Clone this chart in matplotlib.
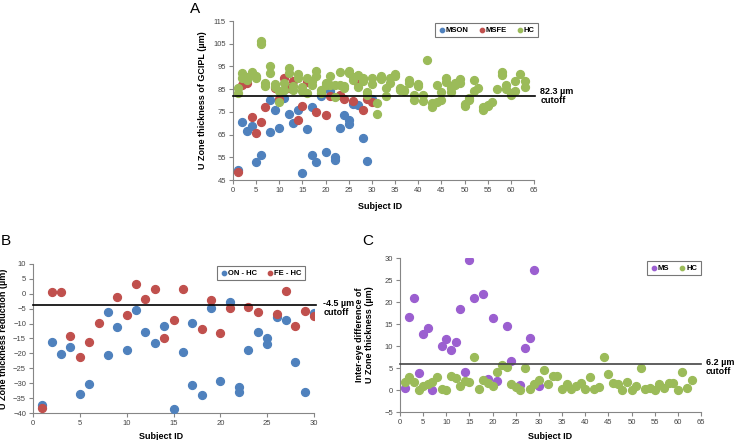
import numpy as np
import matplotlib.pyplot as plt

plt.rcParams['font.family'] = ['Liberation Sans', 'DejaVu Sans']

# ---- Panel A: U zone GCIPL thickness per subject ----
mson_x = [1, 2, 3, 4, 5, 6, 8, 8, 9, 10, 11, 12, 13, 14, 15, 16, 17, 17, 18, 19,
          20, 21, 22, 22, 23, 24, 25, 25, 26, 27, 28, 29, 30]
mson_y = [49.5, 70.5, 66.5, 68.7, 52.9, 55.8, 80.4, 66.1, 75.6, 68.0, 81.0, 74.1, 69.9, 75.7,
          48.0, 67.3, 77.0, 56.0, 52.8, 82.2, 57.2, 84.4, 55.0, 53.6, 67.7, 73.7, 71.6, 69.6,
          78.4, 78.0, 63.6, 53.3, 80.7]
msfe_x = [1, 2, 3, 4, 5, 6, 7, 9, 10, 11, 12, 13, 14, 15, 16, 18, 20, 21, 23, 24,
          26, 27, 28, 29, 30]
msfe_y = [48.5, 87.0, 87.6, 72.8, 65.5, 70.5, 77.0, 85.7, 80.7, 89.8, 85.3, 88.5, 71.5, 77.6,
          88.2, 74.9, 73.6, 82.2, 82.3, 80.6, 79.7, 87.8, 75.6, 80.7, 79.4]
hc_x = [1, 1, 2, 2, 3, 3, 4, 4, 5, 5, 6, 6, 7, 7, 8, 8, 9, 9, 10, 10, 11, 11, 12, 12,
        13, 13, 14, 14, 15, 15, 16, 16, 17, 17, 18, 18, 19, 19, 20, 20, 21, 21, 22, 22,
        23, 23, 24, 24, 25, 25, 26, 26, 27, 27, 28, 28, 29, 29, 30, 30, 31, 31, 32, 32,
        33, 33, 34, 34, 35, 35, 36, 36, 37, 37, 38, 38, 39, 39, 40, 40, 41, 41, 42,
        43, 43, 44, 44, 45, 45, 46, 46, 47, 47, 48, 48, 49, 49, 50, 50, 51, 51, 52, 52,
        53, 54, 54, 55, 55, 56, 57, 58, 58, 59, 59, 60, 60, 61, 61, 62, 63, 63]
hc_y = [85.5, 83.3, 92.0, 90.0, 90.5, 89.0, 92.7, 91.5, 91.0, 90.0, 106.0, 105.0, 87.6, 86.2,
        95.0, 92.0, 87.2, 86.0, 79.2, 84.0, 87.6, 84.5, 94.2, 92.0, 84.6, 86.5, 91.5, 89.8,
        86.1, 84.2, 90.0, 83.5, 88.5, 87.0, 93.0, 91.0, 84.6, 83.2, 86.8, 87.5, 90.9, 87.0,
        87.0, 81.5, 92.4, 87.0, 86.5, 85.5, 93.0, 92.0, 90.5, 89.0, 91.2, 86.1, 89.8, 88.5,
        83.9, 82.4, 89.8, 87.1, 78.7, 74.0, 90.7, 89.4, 85.3, 81.9, 90.1, 87.5, 91.6, 91.0,
        85.7, 84.5, 84.5, 84.0, 88.9, 87.8, 82.3, 80.4, 87.2, 86.5, 82.3, 79.8, 97.7,
        77.2, 78.7, 86.8, 79.4, 83.9, 80.3, 89.8, 88.3, 85.4, 83.9, 87.6, 87.0, 89.5, 87.9,
        77.6, 78.5, 80.2, 81.0, 89.0, 84.3, 85.4, 75.8, 77.0, 77.6, 78.0, 79.5, 84.9,
        92.7, 91.3, 86.8, 84.9, 82.4, 83.5, 88.6, 84.3, 91.7, 88.6, 86.1]
cutoff_a = 82.0

# ---- Panel B: thickness reduction vs HC ----
on_x = [1, 2, 3, 4, 5, 6, 8, 8, 9, 10, 11, 12, 13, 14, 15, 16, 17, 17, 18, 19, 20, 21,
        22, 22, 23, 24, 25, 25, 26, 27, 28, 29, 30]
on_y = [-37.4, -16.2, -20.2, -17.9, -33.6, -30.4, -20.6, -6.2, -11.0, -18.7, -5.6, -12.8,
        -16.6, -10.8, -38.8, -19.4, -30.6, -9.7, -34.0, -4.6, -29.4, -2.6, -31.4, -33.0,
        -19.0, -12.9, -14.8, -17.0, -7.7, -8.8, -23.0, -33.0, -6.6]
fe_x = [1, 2, 3, 4, 5, 6, 7, 9, 10, 11, 12, 13, 14, 15, 16, 18, 19, 20, 21, 23, 24, 26,
        27, 28, 29, 30]
fe_y = [-38.2, 0.5, 0.7, -14.0, -21.1, -16.2, -9.7, -1.1, -7.1, 3.3, -1.6, 1.7, -15.0, -8.9,
        1.6, -11.9, -2.0, -13.0, -4.6, -4.3, -6.0, -6.8, 0.9, -10.9, -5.8, -7.6]
cutoff_b = -3.8

# ---- Panel C: inter-eye difference ----
ms_x = [1, 2, 3, 4, 5, 6, 7, 9, 10, 11, 12, 13, 14, 15, 16, 18, 19, 20, 21, 23, 24, 26,
        27, 28, 29, 30]
ms_y = [0.5, 16.7, 20.8, 3.9, 12.7, 14.2, 0.0, 10.1, 11.7, 9.1, 10.9, 18.3, 4.2, 29.6, 21.0,
        21.9, 2.6, 16.3, 2.0, 14.6, 6.7, 1.1, 9.5, 11.9, 27.2, 0.8]
hc2_x = list(range(1, 64))
hc2_y = [1.9, 2.9, 1.8, 0.1, 1.0, 1.4, 1.8, 2.9, 0.3, 0.1, 3.1, 2.7, 0.8, 2.1, 1.9, 7.6,
         0.3, 2.3, 1.6, 0.8, 4.0, 5.6, 5.2, 1.4, 0.6, 0.1, 5.1, 0.2, 1.4, 2.3, 4.5, 1.4,
         3.1, 3.1, 0.3, 1.4, 0.3, 1.0, 1.6, 0.2, 2.9, 0.2, 0.7, 7.6, 3.6, 1.6, 1.4, 0.1,
         1.9, 0.1, 0.8, 5.0, 0.3, 0.4, 0.0, 1.4, 0.4, 1.6, 1.7, 0.1, 4.2, 0.4, 2.3]
cutoff_c = 6.0

blue = '#4F81BD'
red = '#C0504D'
green = '#9BBB59'
purple = '#9B5FD0'
grey = '#868686'

W, H = 734, 440
fig = plt.figure(figsize=(W / 100, H / 100), dpi=100)


def px_axes(l, t, r, b):
    return fig.add_axes([l / W, 1 - b / H, (r - l) / W, (b - t) / H])


def style(ax, xlim, ylim, xstep, ystep):
    ax.set_xlim(*xlim)
    ax.set_ylim(*ylim)
    ax.set_xticks(np.arange(xlim[0], xlim[1] + 0.1, xstep))
    ax.set_yticks(np.arange(ylim[0], ylim[1] + 0.1, ystep))
    for s in ['top', 'right']:
        ax.spines[s].set_visible(False)
    for s in ['left', 'bottom']:
        ax.spines[s].set_color(grey)
        ax.spines[s].set_linewidth(0.8)
    ax.tick_params(direction='out', length=3, width=0.8, color=grey,
                   labelsize=5.5, labelcolor='#444444', pad=2)
    ax.set_xlabel('Subject ID', fontsize=6.5, fontweight='bold')


def legend(ax, x, y):
    lg = ax.legend(loc='upper left', bbox_to_anchor=(x / W, 1 - y / H),
                   bbox_transform=fig.transFigure, ncol=3,
                   prop={'weight': 'bold', 'size': 5.5}, frameon=True, fancybox=False,
                   edgecolor='#555555', handletextpad=0.0, columnspacing=1.2,
                   borderpad=0.45, handlelength=1.0, markerscale=0.55)
    lg.get_frame().set_linewidth(0.8)


ms = 32

# Panel A
axA = px_axes(233, 21, 534, 180)
axA.scatter(mson_x, mson_y, s=ms, color=blue, label='MSON', zorder=3)
axA.scatter(msfe_x, msfe_y, s=ms, color=red, label='MSFE', zorder=3)
axA.scatter(hc_x, hc_y, s=ms, color=green, label='HC', zorder=3)
axA.plot([0, 65.3], [cutoff_a, cutoff_a], color='black', lw=1.2, clip_on=False, zorder=4)
style(axA, (0, 65), (45, 115), 5, 10)
axA.set_ylabel('U Zone thickness of GCIPL (µm)', fontsize=6.5, fontweight='bold')
axA.yaxis.set_label_coords(-0.086, 0.5)
axA.xaxis.set_label_coords(0.49, -0.14)
axA.text(66.4, cutoff_a, '82.3 µm\ncutoff', fontsize=6.5, fontweight='bold',
         va='center', ha='left', linespacing=1.1)
legend(axA, 431, 19)
fig.text(190 / W, 1 - 9 / H, 'A', fontsize=11, va='center')

# Panel B
axB = px_axes(33, 264, 314, 413)
axB.scatter(on_x, on_y, s=ms, color=blue, label='ON - HC', zorder=3)
axB.scatter(fe_x, fe_y, s=ms, color=red, label='FE - HC', zorder=3)
axB.plot([0, 30.2], [cutoff_b, cutoff_b], color='black', lw=1.2, clip_on=False, zorder=4)
style(axB, (0, 30), (-40, 10), 5, 5)
axB.set_ylabel('U Zone thickness reduction (µm)', fontsize=6.5, fontweight='bold')
axB.yaxis.set_label_coords(-0.09, 0.5)
axB.xaxis.set_label_coords(0.455, -0.125)
axB.text(31.0, cutoff_b - 1.0, '-4.5 µm\ncutoff', fontsize=6.5, fontweight='bold',
         va='center', ha='left', linespacing=1.1)
legend(axB, 213, 262)
fig.text(1 / W, 1 - 241 / H, 'B', fontsize=11, va='center')

# Panel C
axC = px_axes(400, 258, 701, 412)
axC.scatter(ms_x, ms_y, s=ms, color=purple, label='MS', zorder=3)
axC.scatter(hc2_x, hc2_y, s=ms, color=green, label='HC', zorder=3)
axC.plot([0, 65], [cutoff_c, cutoff_c], color='#444444', lw=1.2, clip_on=False, zorder=4)
style(axC, (0, 65), (-5, 30), 5, 5)
axC.set_ylabel('Inter-eye difference of\nU Zone thickness (µm)', fontsize=6.5,
               fontweight='bold', linespacing=1.15)
axC.yaxis.set_label_coords(-0.085, 0.5)
axC.xaxis.set_label_coords(0.5, -0.13)
axC.text(66.0, cutoff_c - 0.8, '6.2 µm\ncutoff', fontsize=6.5, fontweight='bold',
         va='center', ha='left', linespacing=1.1)
legend(axC, 643, 257)
fig.text(362 / W, 1 - 241 / H, 'C', fontsize=11, va='center')

fig.savefig('out.png', dpi=100)
